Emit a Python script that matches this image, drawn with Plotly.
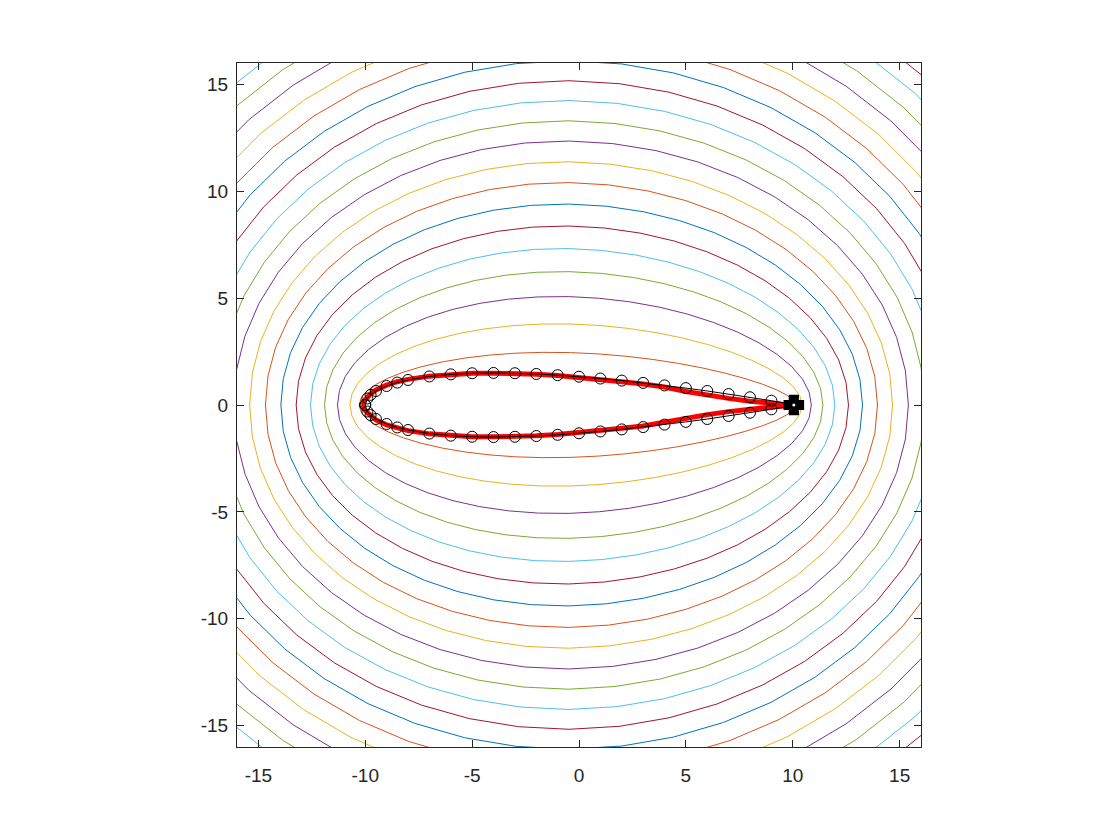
import numpy as np
import plotly.graph_objects as go

# ---- data ----
# Karman-Trefftz mapping constants (exponent, circle half-gap)
MAP_N = 1.906
MAP_B = 5.246
ring_radius = [6.25, 7.13, 8.04, 8.92, 9.77, 10.63, 11.49, 12.35, 13.20, 14.06,
               14.91, 15.77, 16.62, 17.48, 18.33, 19.19, 20.04, 20.90, 21.75, 22.61,
               23.46]
ring_shift = [0.25, 0.285, 0.35, 0.36, 0.40, 0.40, 0.42, 0.42, 0.43, 0.43,
              0.43, 0.43, 0.43, 0.43, 0.43, 0.43, 0.43, 0.43, 0.43, 0.43,
              0.43]
ring_samples = 48

# red airfoil (upper surface, symmetric)
red_x = [-10.15, -10.05, -9.9, -9.75, -9.5, -9.0, -8.5, -8.0, -7.0, -6.0, -5.0, -4.0,
         -3.0, -2.0, -1.0, 0.0, 1.0, 2.0, 3.0, 4.0, 5.0, 6.0, 7.0, 8.0, 9.0, 10.0]
red_y = [0.0, 0.2, 0.36, 0.52, 0.7, 0.93, 1.09, 1.2, 1.35, 1.44, 1.48, 1.49,
         1.48, 1.44, 1.38, 1.3, 1.2, 1.09, 0.98, 0.84, 0.63, 0.45, 0.31, 0.18, 0.09, 0.02]

# black marker points (upper surface, symmetric)
pt_x = [-10.0, -9.9, -9.75, -9.5, -9.0, -8.5, -8.0, -7.0, -6.0, -5.0, -4.0, -3.0,
        -2.0, -1.0, 0.0, 1.0, 2.0, 3.0, 4.0, 5.0, 6.0, 7.0, 8.0, 9.0, 10.0]
pt_y = [0.0, 0.305, 0.473, 0.654, 0.889, 1.05, 1.171, 1.336, 1.434, 1.485, 1.5, 1.487,
        1.451, 1.395, 1.324, 1.238, 1.141, 1.033, 0.916, 0.79, 0.656, 0.513, 0.362,
        0.202, 0.0315]

te_x = [10.05]
te_y = [0.0]

tick_vals = [-15, -10, -5, 0, 5, 10, 15]
tick_text = ['-15', '-10', '-5', '0', '5', '10', '15']
axis_range = [-16, 16]

colors = ['#0072BD', '#D95319', '#EDB120', '#7E2F8E', '#77AC30', '#4DBEEE', '#A2142F']


def kt_map(zeta):
    r = (zeta - MAP_B) / (zeta + MAP_B)
    rn = np.power(r, MAP_N)
    return MAP_N * MAP_B * (1 + rn) / (1 - rn)


fig = go.Figure()

theta = np.linspace(0, 2 * np.pi, ring_samples + 1)
for k, (R, s) in enumerate(zip(ring_radius, ring_shift), start=1):
    zeta = -s + R * np.exp(1j * theta)
    z = kt_map(zeta)
    fig.add_trace(go.Scatter(x=z.real, y=z.imag, mode='lines',
                             line=dict(color=colors[k % 7], width=1),
                             hoverinfo='skip'))

rx = list(red_x) + list(red_x[::-1])
ry = list(red_y) + [-v for v in red_y[::-1]]
fig.add_trace(go.Scatter(x=rx, y=ry, mode='lines',
                         line=dict(color='#FF0000', width=5)))

px = list(pt_x) + list(pt_x[::-1])
py = list(pt_y) + [-v for v in pt_y[::-1]]
fig.add_trace(go.Scatter(x=px, y=py, mode='lines+markers',
                         line=dict(color='black', width=1),
                         marker=dict(symbol='circle-open', size=11,
                                     color='black', line=dict(width=1))))

fig.add_trace(go.Scatter(x=te_x, y=te_y, mode='markers',
                         marker=dict(symbol='cross', size=13, color='black',
                                     line=dict(color='black', width=5))))
fig.add_trace(go.Scatter(x=te_x, y=te_y, mode='markers',
                         marker=dict(symbol='circle', size=3, color='white')))

axis_common = dict(range=axis_range, tickvals=tick_vals, ticktext=tick_text,
                   ticks='inside', ticklen=7,
                   tickcolor='#262626', showline=True, linecolor='#262626', linewidth=1,
                   mirror='ticks', showgrid=False, zeroline=False,
                   tickfont=dict(family='Liberation Sans, Arial, sans-serif', size=19,
                                 color='#262626'))

fig.update_layout(width=1120, height=840,
                  margin=dict(l=229, r=207, t=55, b=101),
                  paper_bgcolor='white', plot_bgcolor='white',
                  showlegend=False,
                  xaxis=dict(axis_common, ticklabelstandoff=11),
                  yaxis=dict(axis_common, ticklabelstandoff=4))

fig.write_html("out.html")
